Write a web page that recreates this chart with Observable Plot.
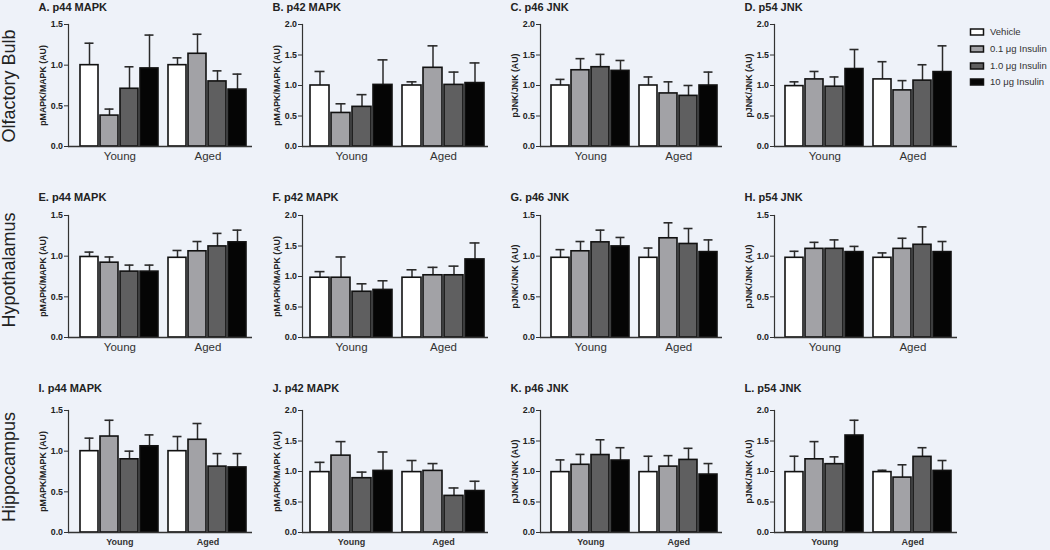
<!DOCTYPE html>
<html>
<head>
<meta charset="utf-8">
<script src="https://cdn.jsdelivr.net/npm/d3@7"></script>
<script src="https://cdn.jsdelivr.net/npm/@observablehq/plot@0.6"></script>
<style>
  html, body { margin: 0; padding: 0; background: #eef2f9; }
  #root { position: relative; width: 1050px; height: 550px; overflow: hidden; background: #eef2f9;
          font-family: "Liberation Sans", Arial, sans-serif; color: #222; }
  .panel { position: absolute; }
  #overlay { position: absolute; left: 0; top: 0; }
</style>
</head>
<body>
<div id="root"></div>
<script>
// ---------- data ----------
const groups = ["Young", "Aged"];
const doses = ["Vehicle", "0.1 μg Insulin", "1.0 μg Insulin", "10 μg Insulin"];
const doseColors = ["#ffffff", "#a2a2a6", "#5f5f60", "#050505"];
const regions = ["Olfactory Bulb", "Hypothalamus", "Hippocampus"];
const panelTitles = ["A. p44 MAPK", "B. p42 MAPK", "C. p46 JNK", "D. p54 JNK",
                     "E. p44 MAPK", "F. p42 MAPK", "G. p46 JNK", "H. p54 JNK",
                     "I. p44 MAPK", "J. p42 MAPK", "K. p46 JNK", "L. p54 JNK"];
const yLabels = ["pMAPK/MAPK (AU)", "pMAPK/MAPK (AU)", "pJNK/JNK (AU)", "pJNK/JNK (AU)"];
const yMax = [1.5, 2.0, 2.0, 2.0,  1.5, 2.0, 1.5, 1.5,  1.5, 2.0, 2.0, 2.0];

// means: Young (Vehicle, 0.1, 1.0, 10), then Aged (Vehicle, 0.1, 1.0, 10)
const meansA = [1.00, 0.38, 0.71, 0.96,  1.00, 1.14, 0.80, 0.70];
const errTopA = [1.27, 0.46, 0.98, 1.37,  1.09, 1.38, 0.93, 0.89];
const meansB = [1.00, 0.55, 0.65, 1.01,  1.00, 1.29, 1.01, 1.04];
const errTopB = [1.23, 0.70, 0.85, 1.42,  1.06, 1.65, 1.22, 1.37];
const meansC = [1.00, 1.25, 1.30, 1.24,  1.00, 0.87, 0.83, 1.00];
const errTopC = [1.10, 1.44, 1.51, 1.41,  1.14, 1.06, 1.00, 1.22];
const meansD = [0.99, 1.10, 0.98, 1.27,  1.10, 0.92, 1.08, 1.22];
const errTopD = [1.06, 1.23, 1.14, 1.59,  1.39, 1.08, 1.34, 1.65];

const meansE = [0.99, 0.92, 0.81, 0.81,  0.98, 1.06, 1.12, 1.17];
const errTopE = [1.05, 0.99, 0.89, 0.89,  1.07, 1.18, 1.28, 1.32];
const meansF = [0.98, 0.98, 0.75, 0.78,  0.98, 1.02, 1.02, 1.28];
const errTopF = [1.08, 1.32, 0.88, 0.93,  1.11, 1.15, 1.17, 1.55];
const meansG = [0.98, 1.06, 1.17, 1.12,  0.98, 1.22, 1.15, 1.05];
const errTopG = [1.08, 1.18, 1.32, 1.23,  1.10, 1.41, 1.34, 1.20];
const meansH = [0.98, 1.09, 1.09, 1.05,  0.98, 1.09, 1.14, 1.05];
const errTopH = [1.06, 1.17, 1.20, 1.12,  1.04, 1.22, 1.36, 1.18];

const meansI = [1.00, 1.18, 0.90, 1.06,  1.00, 1.14, 0.81, 0.80];
const errTopI = [1.16, 1.38, 1.00, 1.20,  1.18, 1.34, 0.97, 0.97];
const meansJ = [0.99, 1.26, 0.89, 1.01,  0.99, 1.01, 0.60, 0.68];
const errTopJ = [1.15, 1.49, 0.99, 1.32,  1.18, 1.13, 0.73, 0.84];
const meansK = [0.99, 1.11, 1.27, 1.18,  0.99, 1.08, 1.19, 0.95];
const errTopK = [1.19, 1.28, 1.52, 1.39,  1.25, 1.26, 1.38, 1.13];
const meansL = [0.99, 1.20, 1.12, 1.59,  0.99, 0.90, 1.24, 1.01];
const errTopL = [1.25, 1.49, 1.24, 1.84,  1.02, 1.11, 1.39, 1.18];

const allMeans = [meansA, meansB, meansC, meansD, meansE, meansF, meansG, meansH, meansI, meansJ, meansK, meansL];
const allErrTop = [errTopA, errTopB, errTopC, errTopD, errTopE, errTopF, errTopG, errTopH, errTopI, errTopJ, errTopK, errTopL];

// ---------- layout ----------
const axisX = [68, 302, 540, 774];
const plotRight = [252, 488, 722, 957];
const rowTop = [24, 215, 410];
const plotH = 122;
const ML = 50, MR = 4, MT = 26, MB = 22;
const shift = 4;
const font = "'Liberation Sans', Arial, Helvetica, sans-serif";

const root = document.getElementById("root");

// overlay with row labels and legend
const overlay = d3.select(root).append("svg").attr("id", "overlay")
  .attr("width", 1050).attr("height", 550).style("font-family", font);
const rowLabelY = [86, 270, 467];
regions.forEach((r, i) => {
  overlay.append("text")
    .attr("transform", `translate(15,${rowLabelY[i]}) rotate(-90)`)
    .attr("text-anchor", "middle").attr("font-size", 18).attr("fill", "#222")
    .text(r);
});
const legendY = [32, 49, 66, 82];
doses.forEach((d, i) => {
  overlay.append("rect").attr("x", 970.5).attr("y", legendY[i] - 3).attr("width", 13).attr("height", 6)
    .attr("fill", doseColors[i]).attr("stroke", "#111").attr("stroke-width", 1.5);
  overlay.append("text").attr("x", 990).attr("y", legendY[i]).attr("dy", "0.35em")
    .attr("font-size", 9.5).attr("fill", "#333").text(d);
});

for (let p = 0; p < 12; p++) {
  const row = Math.floor(p / 4), col = p % 4;
  const plotW = plotRight[col] - axisX[col];
  const width = ML + plotW + MR, height = MT + plotH + MB;
  const keys = [];
  const data = [];
  groups.forEach((g, gi) => doses.forEach((d, di) => {
    const key = g + "|" + d;
    keys.push(key);
    data.push({group: g, dose: d, key, mean: allMeans[p][gi * 4 + di], top: allErrTop[p][gi * 4 + di]});
  }));
  const xOpts = {type: "band", domain: keys, paddingInner: 0.11, paddingOuter: 0.48, align: 0.6};
  const xs = Plot.scale({x: {...xOpts, range: [ML, width - MR]}});
  const step = xs.step;
  const young = data.filter(d => d.group === "Young");
  const aged = data.filter(d => d.group === "Aged");
  const lastRow = row === 2;

  const barMarks = [[young, -shift], [aged, shift]].flatMap(([ds, dx]) => [
    Plot.ruleX(ds, {x: "key", y1: "mean", y2: "top", dx, stroke: "#2a2a2a", strokeWidth: 1.5}),
    Plot.tickY(ds, {x: "key", y: "top", dx, insetLeft: 4.5, insetRight: 4.5, stroke: "#2a2a2a", strokeWidth: 1.6}),
    Plot.barY(ds, {x: "key", y: "mean", fill: "dose", dx, stroke: "#111", strokeWidth: 1.6})
  ]);

  const groupLabelMarks = groups.map((g, gi) => Plot.text([g], {
    x: () => g + "|" + doses[1],
    text: d => d,
    frameAnchor: "bottom", lineAnchor: "top",
    dx: step / 2 + (gi === 0 ? -shift : shift), dy: lastRow ? 6 : 5,
    fontSize: lastRow ? 9 : 11.5, fontWeight: lastRow ? "bold" : "normal", fill: "#333"
  }));

  const ticks = d3.range(0, yMax[p] + 0.001, 0.5);
  const chart = Plot.plot({
    width, height,
    marginLeft: ML, marginRight: MR, marginTop: MT, marginBottom: MB,
    style: {background: "transparent", fontFamily: font, color: "#222", overflow: "visible"},
    x: {...xOpts, axis: null},
    y: {domain: [0, yMax[p]], axis: null},
    color: {domain: doses, range: doseColors},
    marks: [
      ...barMarks,
      Plot.frame({anchor: "left", stroke: "#333", strokeWidth: 1.2}),
      Plot.ruleY([0], {stroke: "#333", strokeWidth: 1.4}),
      Plot.axisY({ticks, tickFormat: d3.format(".1f"), tickSize: 4, tickPadding: 1.5,
                  fontSize: 8.8, fontWeight: "bold", stroke: "#333", label: null}),
      Plot.text([yLabels[col]], {frameAnchor: "left", textAnchor: "middle", lineAnchor: "middle",
                 rotate: -90, dx: -25,
                 fontSize: 8.8, fontWeight: "bold", fill: "#222"}),
      Plot.text([panelTitles[p]], {frameAnchor: "top-left", textAnchor: "start", lineAnchor: "middle",
                 dx: -30, dy: row === 0 ? -17 : row === 1 ? -18 : -22,
                 fontSize: 11, fontWeight: "bold", fill: "#222"}),
      ...groupLabelMarks
    ]
  });
  const div = document.createElement("div");
  div.className = "panel";
  div.style.left = (axisX[col] - ML) + "px";
  div.style.top = (rowTop[row] - MT) + "px";
  div.appendChild(chart);
  root.appendChild(div);
}
</script>
</body>
</html>
